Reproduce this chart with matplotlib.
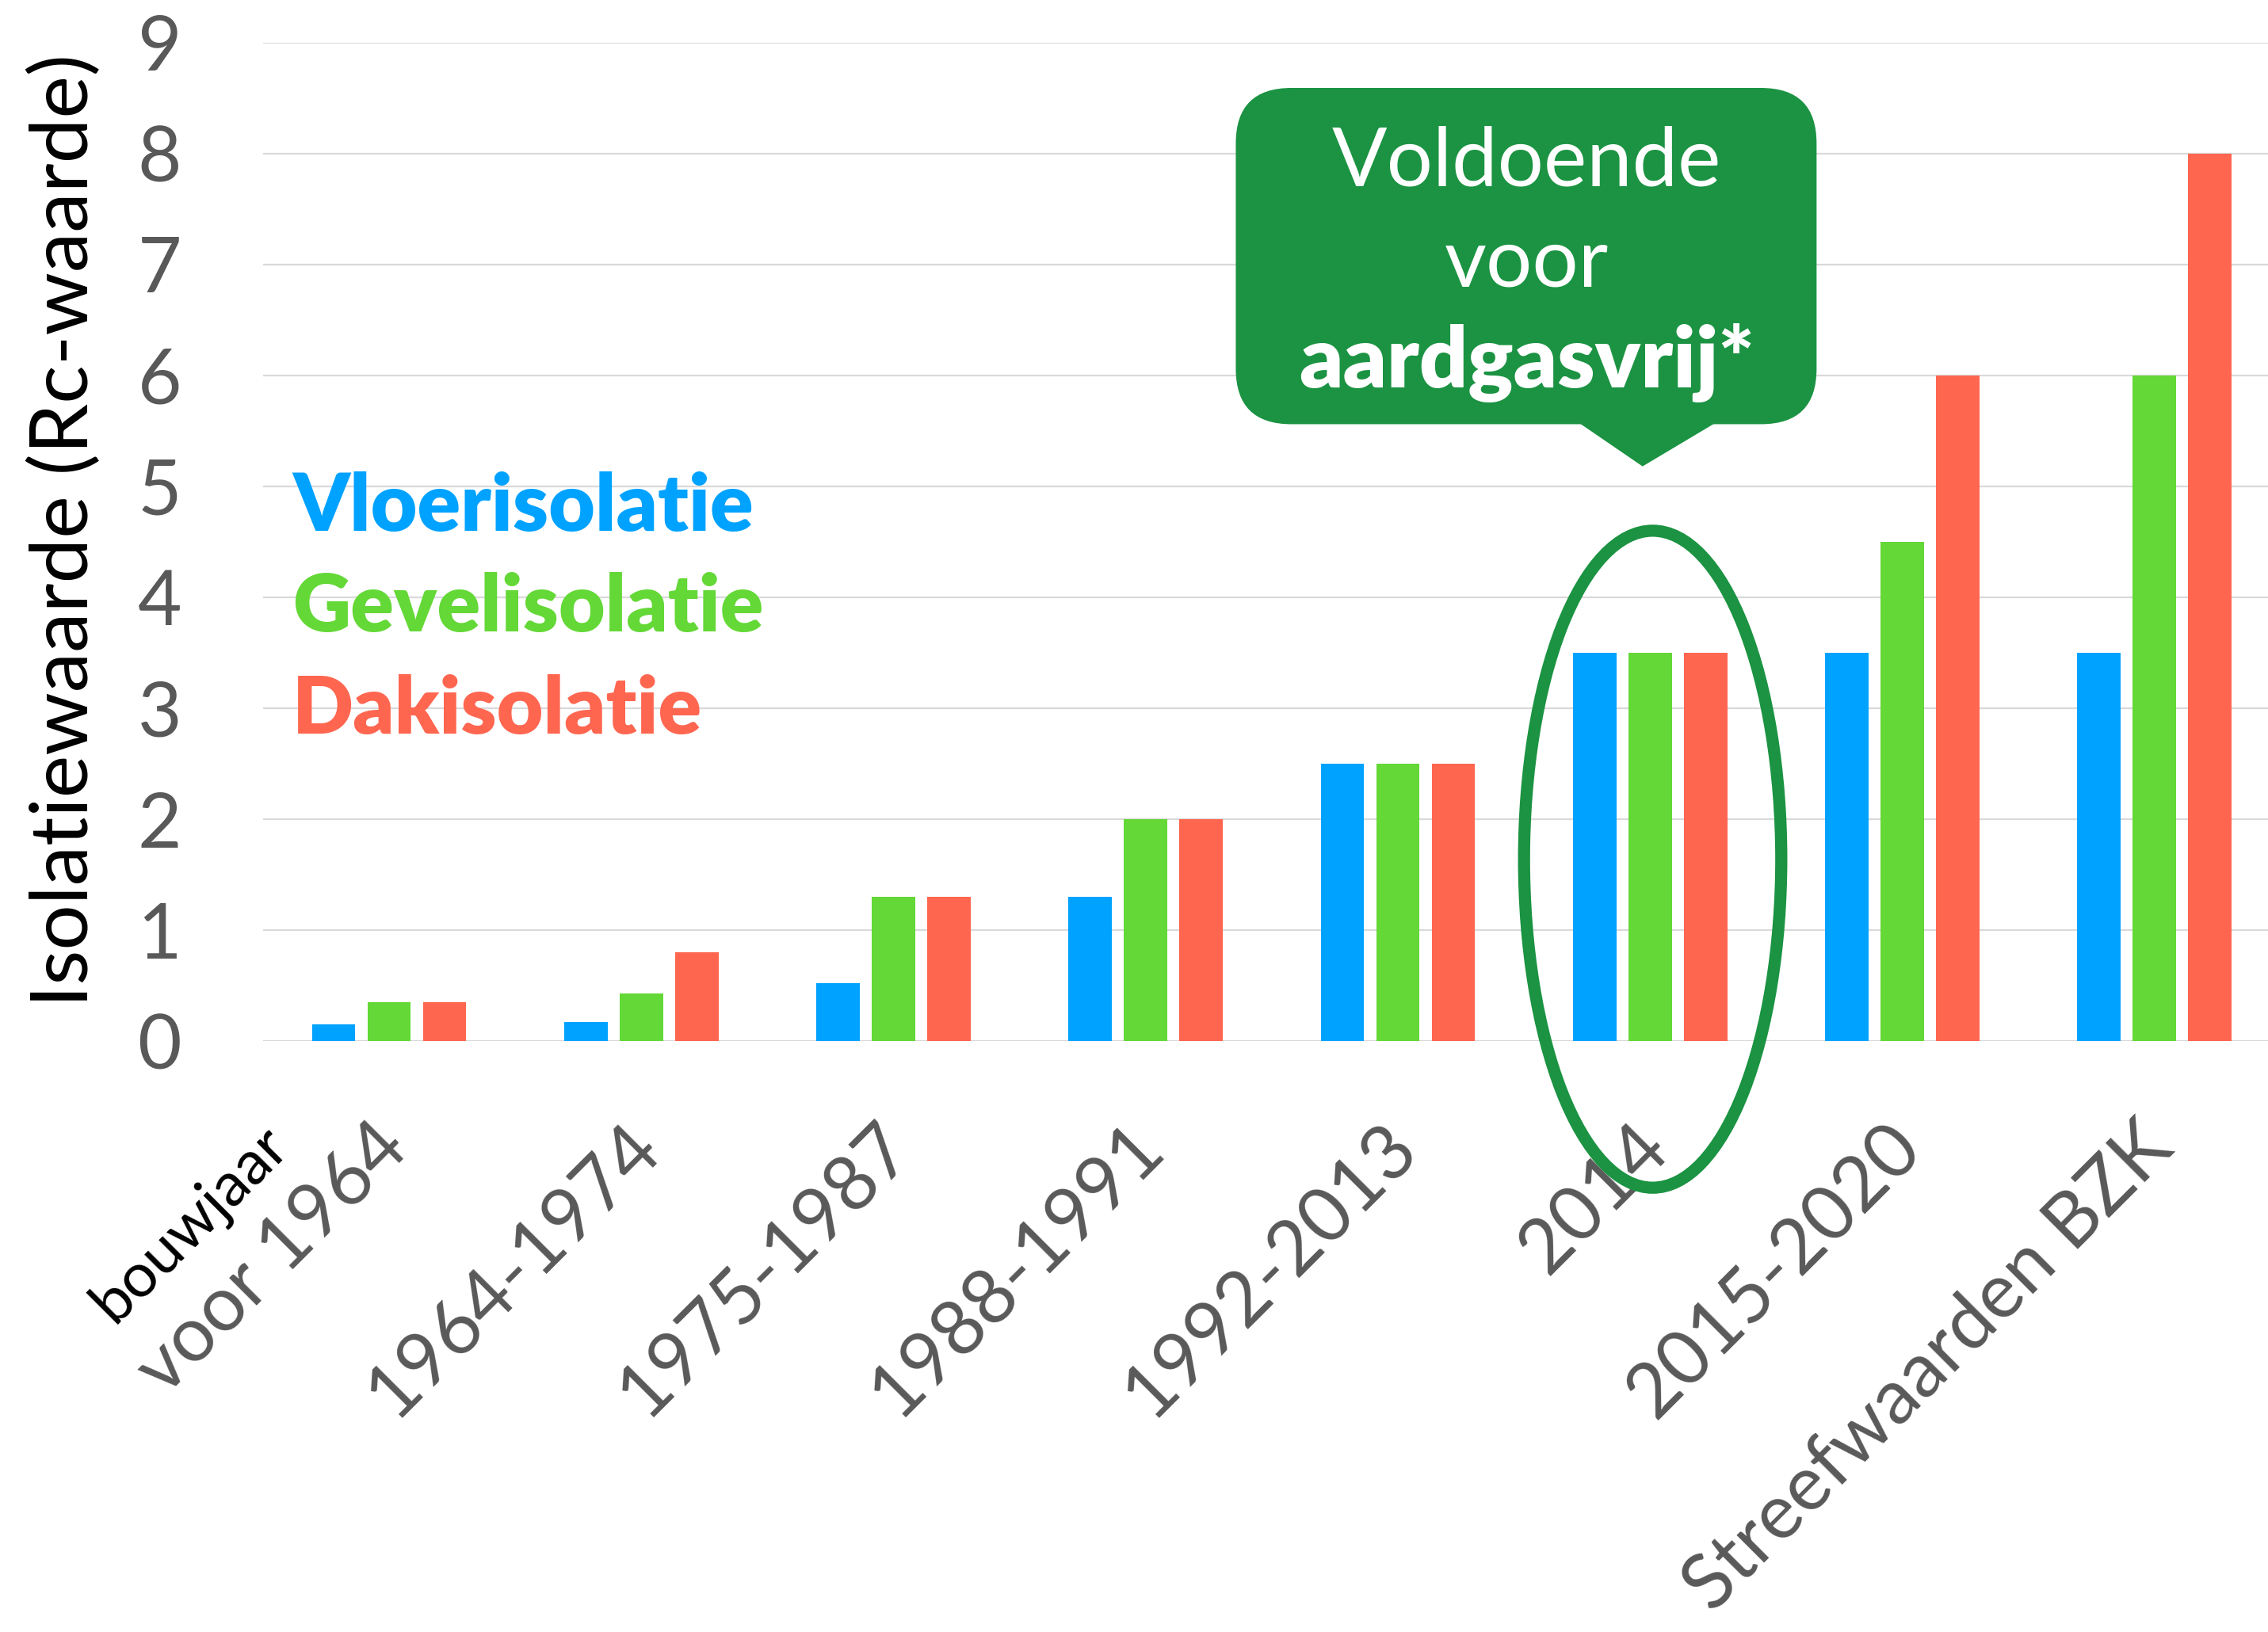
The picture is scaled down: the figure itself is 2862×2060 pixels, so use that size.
import matplotlib
matplotlib.use('Agg')
import matplotlib.pyplot as plt
from matplotlib.patches import FancyBboxPatch, Polygon, Ellipse
import numpy as np

plt.rcParams['font.family'] = ['Lato', 'DejaVu Sans']

# Data
categories = ['voor 1964', '1964-1974', '1975-1987', '1988-1991',
              '1992-2013', '2014', '2015-2020', 'Streefwaarden BZK']
vloer = [0.15, 0.17, 0.52, 1.3, 2.5, 3.5, 3.5, 3.5]
gevel = [0.35, 0.43, 1.3, 2.0, 2.5, 3.5, 4.5, 6.0]
dak = [0.35, 0.8, 1.3, 2.0, 2.5, 3.5, 6.0, 8.0]
series_names = ['Vloerisolatie', 'Gevelisolatie', 'Dakisolatie']
y_ticks = list(range(0, 10))

BLUE = '#00a2ff'
GREEN = '#63d836'
RED = '#ff6650'
DARK_GREEN = '#1b9342'
TICK_GRAY = '#595959'

fig = plt.figure(figsize=(28.62, 20.60), dpi=100)
ax = fig.add_axes([0.116, 0.362, 0.884, 0.612])

x = np.arange(len(categories))
bw = 0.172
off = 0.22
for vals, col, dx in [(vloer, BLUE, -off), (gevel, GREEN, 0), (dak, RED, off)]:
    ax.bar(x + dx, vals, width=bw, color=col, zorder=3)

ax.set_xlim(-0.5, 7.45)
ax.set_ylim(0, 9)
ax.set_yticks(y_ticks)
ax.yaxis.grid(True, color='#d9d9d9', linewidth=1.6)
ax.set_axisbelow(True)
for s in ax.spines.values():
    s.set_visible(False)

ax.tick_params(axis='y', length=0, pad=74, labelsize=69, labelcolor=TICK_GRAY)
ax.set_xticks(x)
ax.set_xticklabels(categories, rotation=45, ha='right', va='center',
                   rotation_mode='anchor', fontsize=69, color=TICK_GRAY)
ax.tick_params(axis='x', length=0, pad=86)
# nudge the rotated labels a little to the right
from matplotlib.transforms import ScaledTranslation
for lbl in ax.get_xticklabels():
    lbl.set_transform(lbl.get_transform() + ScaledTranslation(0.08, 0, fig.dpi_scale_trans))

fig.text(82 / 2862, 1 - 670 / 2060, 'Isolatiewaarde (Rc-waarde)',
         rotation=90, ha='center', va='center', fontsize=73, color='black')
fig.text(240 / 2862, 1 - 1545 / 2060, 'bouwjaar', rotation=45,
         ha='center', va='center', fontsize=56, color='black')

# legend as coloured text
for name, col, yb in zip(series_names, [BLUE, GREEN, RED], [4.60, 3.69, 2.77]):
    ax.text(-0.384, yb, name, color=col, fontsize=73, fontweight='heavy',
            ha='left', va='baseline', zorder=4)

# callout bubble
box = FancyBboxPatch((3.357, 5.56), 5.66 - 3.357, 8.59 - 5.56,
                     boxstyle='round,pad=0,rounding_size=0.22',
                     mutation_aspect=2.27, facecolor=DARK_GREEN,
                     edgecolor='none', zorder=5, clip_on=False)
ax.add_patch(box)
ax.add_patch(Polygon([(4.70, 5.60), (5.28, 5.60), (4.97, 5.18)],
                     closed=True, facecolor=DARK_GREEN, edgecolor='none',
                     zorder=5, clip_on=False))
ax.text(4.51, 7.71, 'Voldoende', color='white', fontsize=74,
        fontweight='normal', ha='center', va='baseline', zorder=6)
ax.text(4.51, 6.80, 'voor', color='white', fontsize=74,
        fontweight='normal', ha='center', va='baseline', zorder=6)
ax.text(4.51, 5.89, 'aardgasvrij*', color='white', fontsize=77,
        fontweight='heavy', ha='center', va='baseline', zorder=6)

# ellipse around 2014
ax.add_patch(Ellipse((5.01, 1.64), 1.02, 5.92, facecolor='none',
                     edgecolor=DARK_GREEN, linewidth=11, zorder=6,
                     clip_on=False))

fig.savefig('out.png', dpi=100)
